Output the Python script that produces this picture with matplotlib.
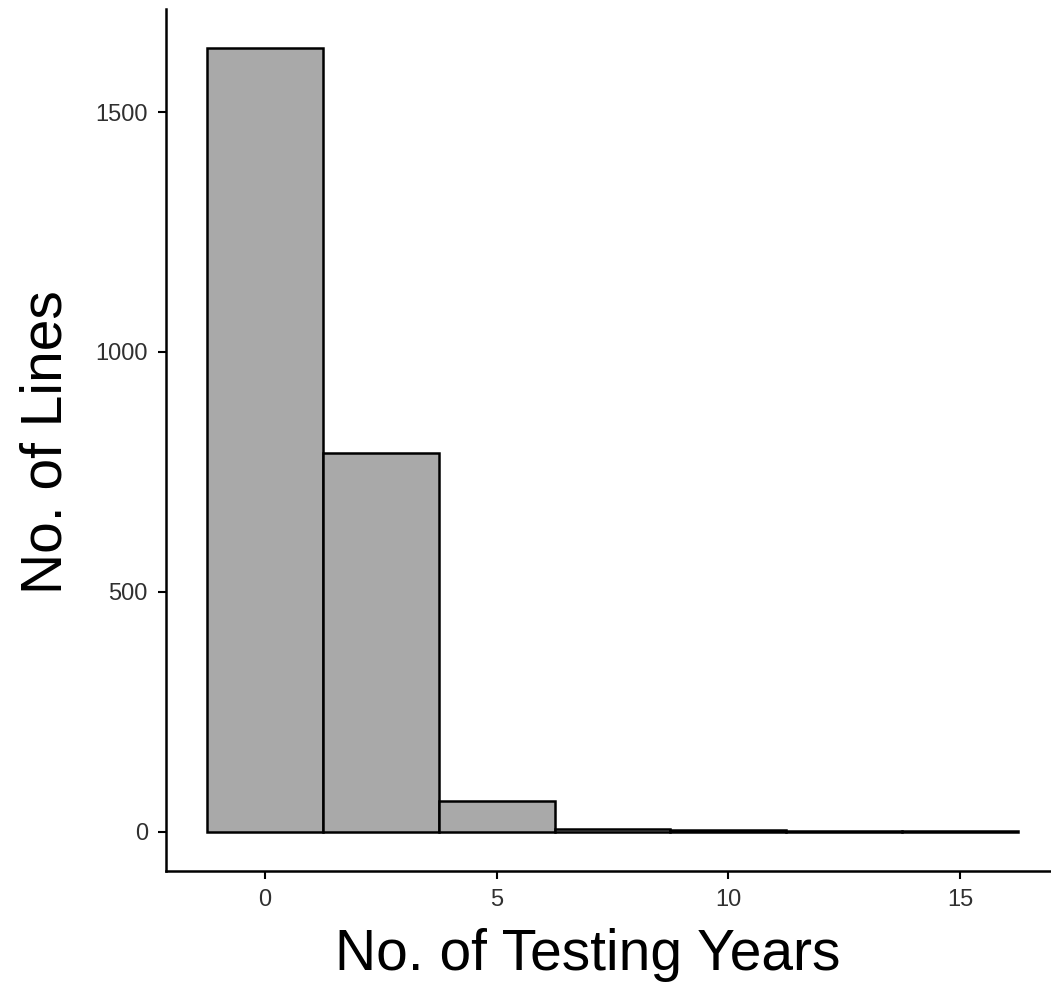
import numpy as np
import matplotlib
matplotlib.use("Agg")
import matplotlib.pyplot as plt

# histogram of testing years, binwidth 2.5
bin_centers = [0, 2.5, 5, 7.5, 10, 12.5, 15]
bin_width = 2.5
counts = [1633, 790, 65, 6, 3, 1, 2]

x_ticks = [0, 5, 10, 15]
y_ticks = [0, 500, 1000, 1500]

plt.rcParams['font.family'] = ['Liberation Sans', 'DejaVu Sans']

W, H = 1051, 988
fig = plt.figure(figsize=(W / 100, H / 100), dpi=100)
ax = fig.add_axes([166 / W, 117 / H, 893 / W, 862 / H])

lefts = np.array(bin_centers) - bin_width / 2
ax.bar(lefts, counts, width=bin_width, align='edge',
       color='#a9a9a9', edgecolor='black', linewidth=1.8)

# ggplot-style 5% expansion
lo, hi = lefts[0], lefts[-1] + bin_width
pad = (hi - lo) * 0.05
ax.set_xlim(lo - pad, hi + pad)
ypad = max(counts) * 0.05
ax.set_ylim(-ypad, max(counts) + ypad)

ax.set_xticks(x_ticks)
ax.set_yticks(y_ticks)
ax.tick_params(labelsize=17, colors='black', length=6, width=1.5, pad=7,
               labelcolor='#303030')

for s in ['top', 'right']:
    ax.spines[s].set_visible(False)
for s in ['left', 'bottom']:
    ax.spines[s].set_linewidth(1.8)

fig.text(588 / W, 1 - 970 / H, 'No. of Testing Years', fontsize=41,
         ha='center', va='baseline')
fig.text(62 / W, 1 - 442 / H, 'No. of Lines', fontsize=41, rotation=90,
         rotation_mode='anchor', ha='center', va='baseline')

fig.savefig('out.png', dpi=100)
